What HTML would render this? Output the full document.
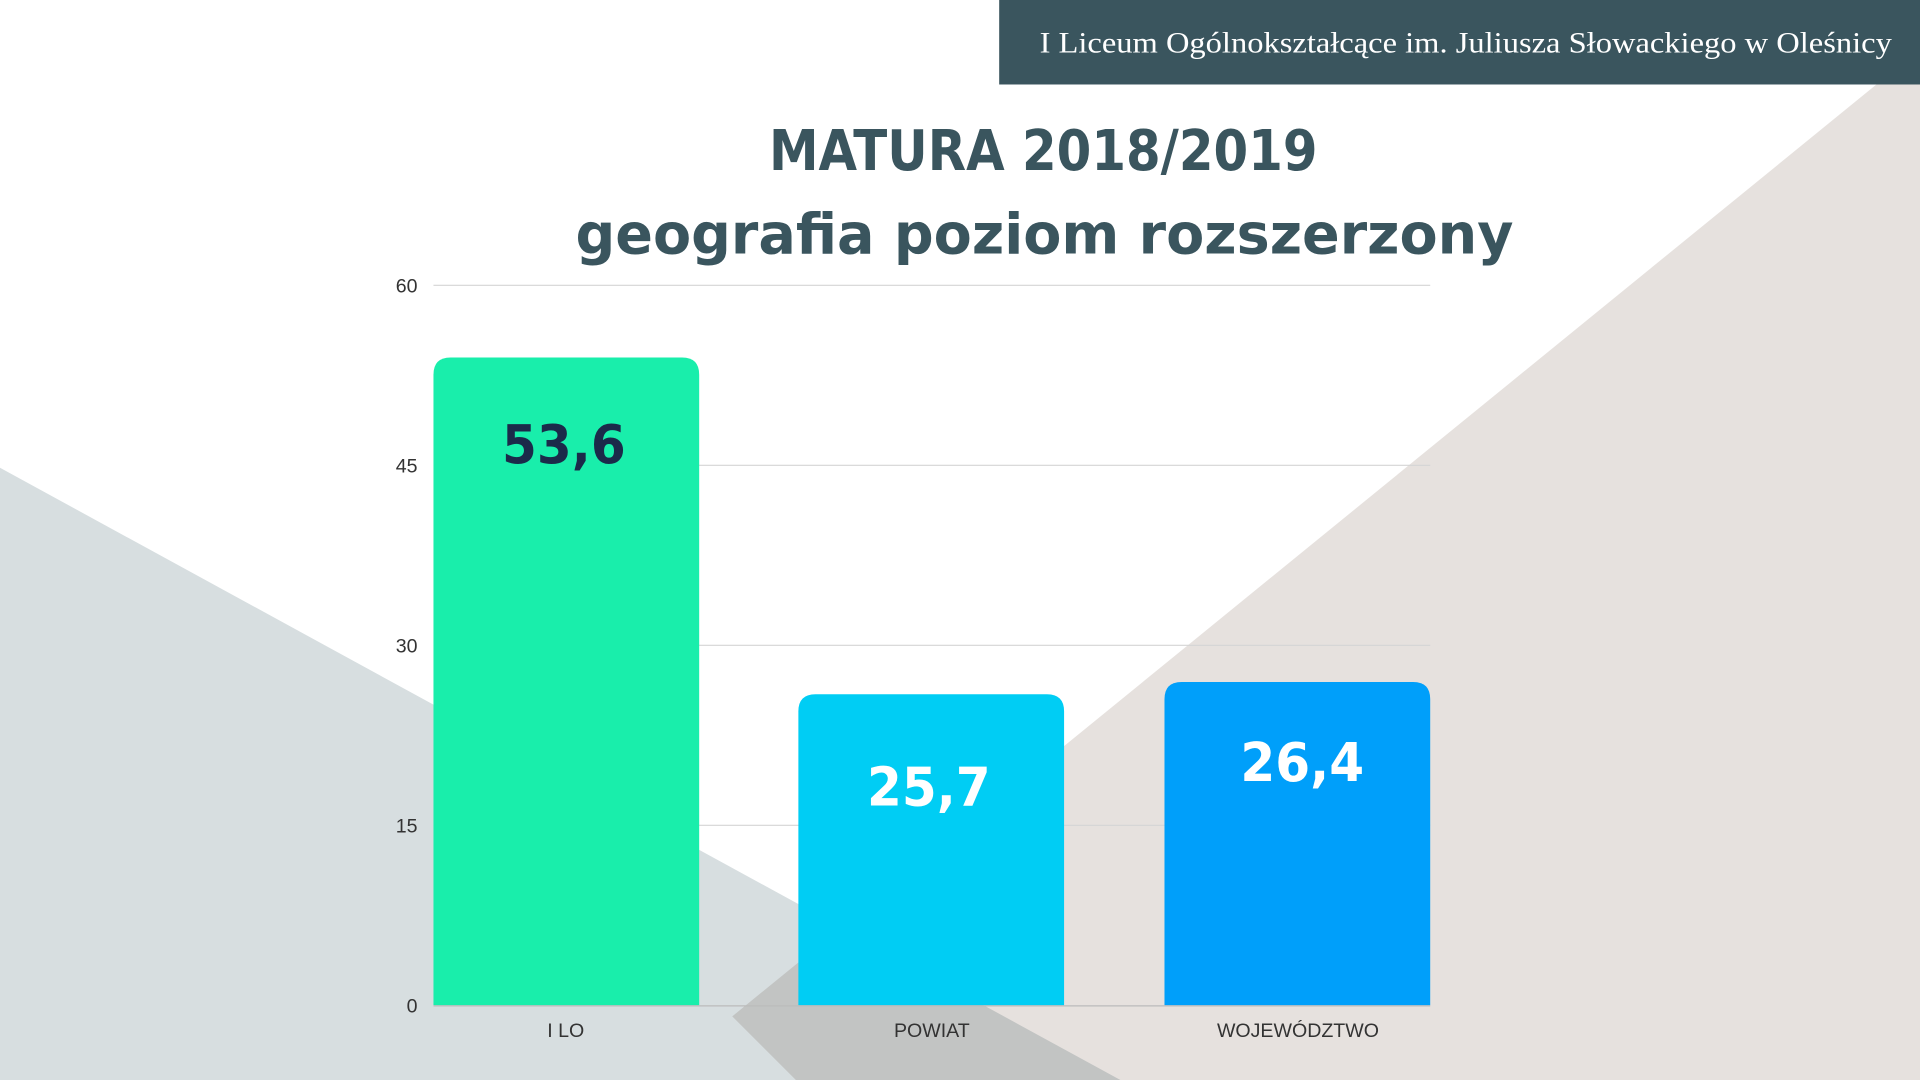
<!DOCTYPE html>
<html><head><meta charset="utf-8"><style>
html,body{margin:0;padding:0;width:1920px;height:1080px;overflow:hidden;background:#fff}
svg{display:block}
.t{font-family:"Liberation Sans",sans-serif}
.big{font-family:"DejaVu Sans","Liberation Sans",sans-serif;font-weight:bold}
</style></head><body>
<svg width="1920" height="1080" viewBox="0 0 1568 882" xmlns="http://www.w3.org/2000/svg">
<rect width="1568" height="882" fill="#fff"/>
<polygon points="1568,40 598,830 650,882 1568,882" fill="#e6e1de"/>
<polygon points="0,382 915,882 0,882" fill="#d7dee0" style="mix-blend-mode:multiply"/>
<rect x="816" y="0" width="752" height="69" fill="#3a555e"/>
<text x="849" y="43" fill="#fff" font-family="Liberation Serif,serif" font-size="24" textLength="696" lengthAdjust="spacingAndGlyphs">I Liceum Ogólnokształcące im. Juliusza Słowackiego w Oleśnicy</text>
<text x="628" y="139" fill="#3a555e" class="big" font-size="46" textLength="448" lengthAdjust="spacingAndGlyphs">MATURA 2018/2019</text>
<text x="470" y="207" fill="#3a555e" class="big" font-size="46" textLength="766" lengthAdjust="spacingAndGlyphs">geografia poziom rozszerzony</text>
<g stroke="#d4d4d4" stroke-width="1">
<line x1="354" y1="233" x2="1168" y2="233"/>
<line x1="354" y1="380" x2="1168" y2="380"/>
<line x1="354" y1="527" x2="1168" y2="527"/>
<line x1="354" y1="674" x2="1168" y2="674"/>
</g>
<g class="t" font-size="16" fill="#333" text-anchor="end">
<text x="341" y="239">60</text><text x="341" y="386">45</text><text x="341" y="533">30</text><text x="341" y="680">15</text><text x="341" y="827">0</text>
</g>
<path d="M354,821 V306 Q354,292 368,292 H557 Q571,292 571,306 V821 Z" fill="#19eeab"/>
<path d="M652,821 V581 Q652,567 666,567 H855 Q869,567 869,581 V821 Z" fill="#00cdf4"/>
<path d="M951,821 V571 Q951,557 965,557 H1154 Q1168,557 1168,571 V821 Z" fill="#009ffa"/>
<line x1="354" y1="821.5" x2="1168" y2="821.5" stroke="#bbb"/>
<text x="410" y="378" fill="#1b2a4a" class="big" font-size="44" textLength="101" lengthAdjust="spacingAndGlyphs">53,6</text>
<text x="708" y="658" fill="#fff" class="big" font-size="44" textLength="101" lengthAdjust="spacingAndGlyphs">25,7</text>
<text x="1013" y="638" fill="#fff" class="big" font-size="44" textLength="101" lengthAdjust="spacingAndGlyphs">26,4</text>
<g class="t" font-size="16" fill="#333" text-anchor="middle">
<text x="462" y="847">I LO</text><text x="761" y="847">POWIAT</text><text x="1060" y="847">WOJEWÓDZTWO</text>
</g>
</svg>
</body></html>
